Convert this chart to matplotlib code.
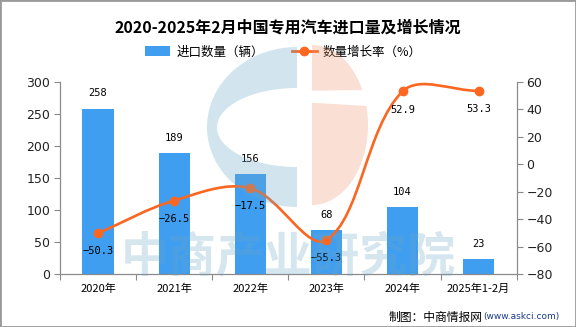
import numpy as np
import matplotlib
matplotlib.use("Agg")
import matplotlib.pyplot as plt
from matplotlib.patches import Patch, Polygon, Rectangle, PathPatch
from matplotlib.lines import Line2D
from matplotlib.path import Path

plt.rcParams["font.family"] = ["Noto Sans CJK SC", "DejaVu Sans"]
plt.rcParams["axes.unicode_minus"] = True

# ------------------------------------------------------------------ data
categories = ["2020年", "2021年", "2022年", "2023年", "2024年", "2025年1-2月"]
import_qty = [258, 189, 156, 68, 104, 23]              # 进口数量（辆）
growth_rate = [-50.3, -26.5, -17.5, -55.3, 52.9, 53.3]  # 数量增长率（%）

title = "2020-2025年2月中国专用汽车进口量及增长情况"
bar_label = "进口数量（辆）"
line_label = "数量增长率（%）"

BAR_C = "#3f9ef0"
LINE_C = "#fb6620"
AX_C = "#8a8a8a"
W, H = 576, 327


def smooth_path(xs, ys, sx, sy, s=0.35):
    """Smooth curve through the points; control points computed in pixel space."""
    p = np.column_stack([np.asarray(xs, float) * sx, np.asarray(ys, float) * sy])
    n = len(p)
    cin, cout = p.copy(), p.copy()
    for i in range(n):
        prev = p[i - 1] if i > 0 else p[i]
        nxt = p[i + 1] if i < n - 1 else p[i]
        v = nxt - prev
        lp = np.hypot(*(p[i] - prev))
        ln = np.hypot(*(nxt - p[i]))
        r = ln / (ln + lp)
        cin[i] = p[i] - v * s * (1 - r)
        cout[i] = p[i] + v * s * r
    verts, codes = [p[0]], [Path.MOVETO]
    for i in range(n - 1):
        verts += [cout[i], cin[i + 1], p[i + 1]]
        codes += [Path.CURVE4] * 3
    verts = np.array(verts) / [sx, sy]
    return Path(verts, codes)


fig = plt.figure(figsize=(W / 100, H / 100), dpi=100)
left, right, bottom, top = 60 / W, 516.7 / W, 1 - 274 / H, 1 - 81.7 / H
ax = fig.add_axes([left, bottom, right - left, top - bottom])
ax2 = ax.twinx()

x = np.arange(len(categories))

# ---- bars
ax.bar(x, import_qty, width=0.41, color=BAR_C, zorder=2)
ax.set_xlim(-0.5, len(categories) - 0.5)
ax.set_ylim(0, 300)
ax.set_yticks(range(0, 301, 50))
for xi, v in zip(x, import_qty):
    ax.annotate(f"{v}", (xi, v), xytext=(0, 11), textcoords="offset points",
                ha="center", va="center", fontsize=7.5, family="DejaVu Sans Mono")

# ---- line
ax2.set_ylim(-80, 60)
ax2.set_yticks(range(-80, 61, 20))
sx = (right - left) * W / len(categories)
sy = (top - bottom) * H / 140
ax2.add_patch(PathPatch(smooth_path(x, growth_rate, sx, sy), fill=False,
                        edgecolor=LINE_C, lw=1.9, zorder=3))
ax2.plot(x, growth_rate, "o", color=LINE_C, ms=6, zorder=4)
for xi, v in zip(x, growth_rate):
    ax2.annotate(f"{v:.1f}".replace("-", "\u2212"), (xi, v), xytext=(0, -13),
                 textcoords="offset points", ha="center", va="center",
                 fontsize=7.5, family="DejaVu Sans Mono")

# ---- axes styling
for a in (ax, ax2):
    a.spines["top"].set_visible(False)
    for sp in ("left", "right", "bottom"):
        a.spines[sp].set_color(AX_C)
ax.set_xticks(np.arange(-0.5, len(categories), 1.0))
ax.set_xticklabels([])
ax.set_xticks(x, minor=True)
ax.set_xticklabels(categories, minor=True, fontsize=8)
ax.tick_params(axis="x", which="major", length=4, color=AX_C)
ax.tick_params(axis="x", which="minor", length=0, pad=7)
ax.tick_params(axis="y", length=4, color=AX_C, labelsize=9, labelcolor="#222", pad=3)
ax2.tick_params(axis="y", length=4, color=AX_C, labelsize=9, labelcolor="#222", pad=3)
for lab in ax.get_yticklabels() + ax2.get_yticklabels():
    lab.set_family("DejaVu Sans")

# ---- title, legend, source
fig.text(0.5, 1 - 28 / H, title, ha="center", va="center", fontsize=11.5,
         fontweight="bold")
handles = [Patch(facecolor=BAR_C, label=bar_label),
           Line2D([], [], color=LINE_C, lw=2, marker="o", ms=6, label=line_label)]
fig.legend(handles=handles, loc="center", bbox_to_anchor=(283.5 / W, 1 - 52 / H),
           ncol=2, frameon=False, fontsize=9, handlelength=2.0, handleheight=0.8,
           handletextpad=0.5, columnspacing=2.2)
fig.text(483 / W, 1 - 317 / H, "制图：中商情报网", ha="right", va="center", fontsize=8.5)
fig.text(483 / W, 1 - 317 / H, "(www.askci.com)", ha="left", va="center",
         fontsize=6.5, color="#1a3c8c", family="DejaVu Sans")

# ---- watermark overlay (pixel coordinates)
wm = fig.add_axes([0, 0, 1, 1], zorder=10)
wm.set_xlim(0, W)
wm.set_ylim(H, 0)
wm.axis("off")
wm.patch.set_visible(False)
WM_BLUE = (0.42, 0.65, 0.78)
WM_PINK = (0.93, 0.59, 0.45)
t_out = np.linspace(np.pi / 2, 3 * np.pi / 2, 60)
t_in = t_out[::-1]
c_shape = np.vstack([
    np.column_stack([297 + 90 * np.cos(t_out), 127 - 80 * np.sin(t_out)]),
    np.column_stack([297 + 80 * np.cos(t_in), 127.5 - 39.5 * np.sin(t_in)]),
])
wm.add_patch(Polygon(c_shape, closed=True, facecolor=WM_BLUE, edgecolor="none", alpha=0.3))
t_r = np.linspace(-np.pi / 2, np.pi / 2, 60)
half = np.column_stack([312 + 56 * np.cos(t_r), 125 - 80 * np.sin(t_r)])
upper = half[half[:, 1] <= 90.7]
lower = half[half[:, 1] >= 102.7]
wm.add_patch(Polygon(np.vstack([upper, [[312, 90.7]]]), closed=True,
                     facecolor=WM_PINK, edgecolor="none", alpha=0.3))
wm.add_patch(Polygon(np.vstack([[[312, 102.7]], lower]), closed=True,
                     facecolor=WM_PINK, edgecolor="none", alpha=0.3))
wm.text(288, 258, "中商产业研究院", ha="center", va="center", fontsize=34.5,
        fontweight="bold", color=WM_BLUE, alpha=0.28)

fig.patches.append(Rectangle((0, 0), 1, 1, transform=fig.transFigure, fill=False,
                             edgecolor="#9a9a9a", lw=2))
fig.savefig("out.png", dpi=100)
